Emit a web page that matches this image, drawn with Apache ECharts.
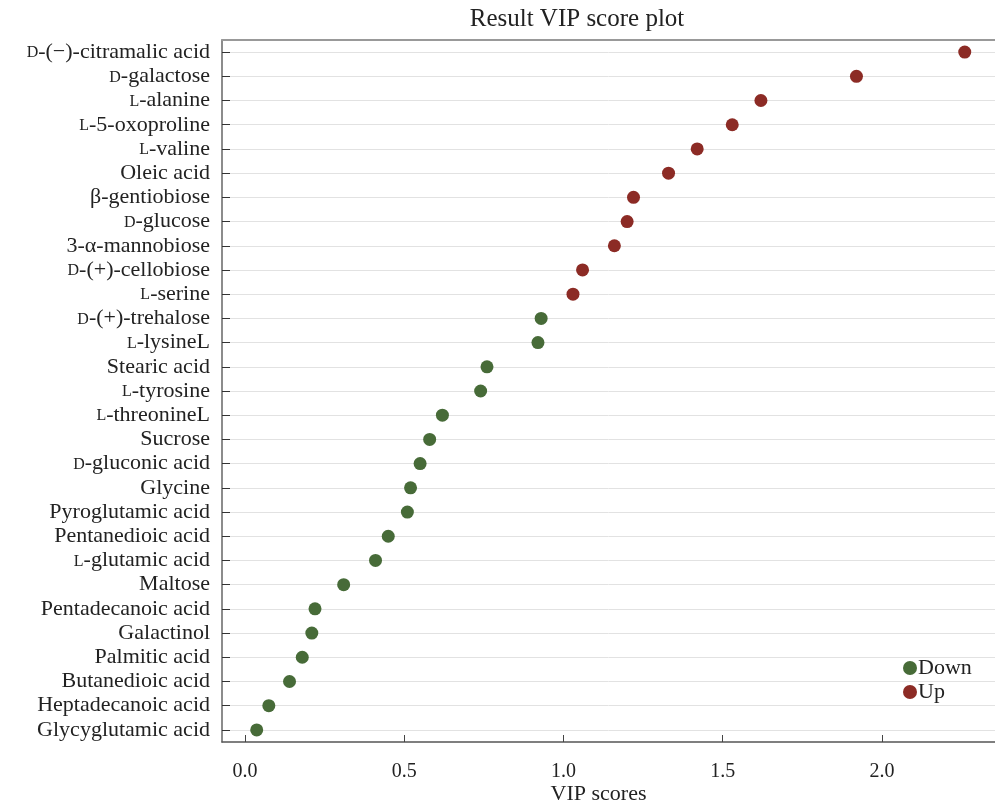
<!DOCTYPE html>
<html lang="en">
<head>
    <meta charset="UTF-8">
    <title>Result VIP score plot</title>
    <script src="https://cdn.jsdelivr.net/npm/echarts@6/dist/echarts.min.js"></script>
    <style>
        *{margin:0;padding:0;box-sizing:border-box;}
        html,body{width:100%;height:100%;background:#fff;}
        #main{width:995px;height:806px;}
    </style>
</head>
<body>
<div id="main"></div>
<script>
    // top to bottom, as in the plot
    var compounds = [
        'D-(\u2212)-citramalic acid', 'D-galactose', 'L-alanine', 'L-5-oxoproline', 'L-valine',
        'Oleic acid', '\u03b2-gentiobiose', 'D-glucose', '3-\u03b1-mannobiose', 'D-(+)-cellobiose',
        'L-serine', 'D-(+)-trehalose', 'L-lysineL', 'Stearic acid', 'L-tyrosine',
        'L-threonineL', 'Sucrose', 'D-gluconic acid', 'Glycine', 'Pyroglutamic acid',
        'Pentanedioic acid', 'L-glutamic acid', 'Maltose', 'Pentadecanoic acid', 'Galactinol',
        'Palmitic acid', 'Butanedioic acid', 'Heptadecanoic acid', 'Glycyglutamic acid'
    ]
    var vipScores = [
        2.26, 1.92, 1.62, 1.53, 1.42,
        1.33, 1.22, 1.20, 1.16, 1.06,
        1.03, 0.93, 0.92, 0.76, 0.74,
        0.62, 0.58, 0.55, 0.52, 0.51,
        0.45, 0.41, 0.31, 0.22, 0.21,
        0.18, 0.14, 0.075, 0.037
    ]
    var direction = [
        'Up', 'Up', 'Up', 'Up', 'Up',
        'Up', 'Up', 'Up', 'Up', 'Up',
        'Up', 'Down', 'Down', 'Down', 'Down',
        'Down', 'Down', 'Down', 'Down', 'Down',
        'Down', 'Down', 'Down', 'Down', 'Down',
        'Down', 'Down', 'Down', 'Down'
    ]
    var xTicks = [0, 0.5, 1.0, 1.5, 2.0]

    function pick(dir){
        var out = []
        for (var i = 0; i < compounds.length; i++){
            if (direction[i] === dir) out.push([vipScores[i], compounds[i]])
        }
        return out
    }

    var serif = '"Liberation Serif", "Times New Roman", serif'
    var myCharts = echarts.init(document.getElementById('main'))
    var option = {
        backgroundColor: '#fff',
        textStyle: {fontFamily: serif},
        title: {
            text: 'Result VIP score plot',
            left: 572, top: 2, textAlign: 'center',
            textStyle: {fontFamily: serif, fontSize: 25, fontWeight: 'normal', color: '#222'}
        },
        legend: {
            data: ['Down', 'Up'],
            orient: 'vertical',
            left: 898, top: 652,
            icon: 'circle', itemWidth: 14, itemHeight: 14, itemGap: 2,
            textStyle: {fontFamily: serif, fontSize: 22, color: '#222', padding: [0, 0, 0, -4]}
        },
        grid: {left: 222, right: 0, top: 40, height: 702, outerBoundsMode: 'none', containLabel: false},
        xAxis: [
            {
                type: 'value', min: -0.072, max: 2.355,
                name: 'VIP scores', nameLocation: 'middle', nameGap: 41, nameMoveOverlap: false,
                nameTextStyle: {fontFamily: serif, fontSize: 22, color: '#222', padding: [0, 20, 0, 0]},
                axisLine: {show: true, lineStyle: {color: '#555', width: 1.5}},
                axisTick: {show: true, inside: true, length: 7, customValues: xTicks, lineStyle: {color: '#444'}},
                axisLabel: {customValues: xTicks, margin: 20, fontFamily: serif, fontSize: 20, color: '#222',
                    formatter: function (v) { return v.toFixed(1) }},
                splitLine: {show: false}
            },
            {
                type: 'value', position: 'top', min: -0.072, max: 2.355,
                axisLine: {show: true, lineStyle: {color: '#999', width: 2}},
                axisTick: {show: false}, axisLabel: {show: false}, splitLine: {show: false}
            }
        ],
        yAxis: {
            type: 'category', data: compounds, inverse: true,
            axisLine: {show: true, onZero: false, lineStyle: {color: '#666', width: 1.5}},
            axisTick: {show: true, inside: true, alignWithLabel: true, length: 8, lineStyle: {color: '#333'}},
            splitLine: {show: true, alignWithLabel: true, lineStyle: {color: '#e2e2e2', width: 1}},
            axisLabel: {
                interval: 0, margin: 12, fontFamily: serif, fontSize: 22, color: '#222',
                formatter: function (v) {
                    var m = /^([DL])(-.*)$/.exec(v)
                    return m ? '{sc|' + m[1] + '}{n|' + m[2] + '}' : '{n|' + v + '}'
                },
                rich: {
                    sc: {fontFamily: serif, fontSize: 16, color: '#222', verticalAlign: 'bottom', lineHeight: 22, padding: [0, 0, 2, 0]},
                    n: {fontFamily: serif, fontSize: 22, color: '#222', verticalAlign: 'bottom', lineHeight: 22}
                }
            }
        },
        series: [
            {
                name: 'Down', type: 'scatter', data: pick('Down'),
                symbolSize: 13, itemStyle: {color: '#476b38', opacity: 1}
            },
            {
                name: 'Up', type: 'scatter', data: pick('Up'),
                symbolSize: 13, itemStyle: {color: '#8c2b25', opacity: 1}
            }
        ]
    }
    myCharts.setOption(option)
    window.onresize = myCharts.resize
</script>
</body>
</html>
